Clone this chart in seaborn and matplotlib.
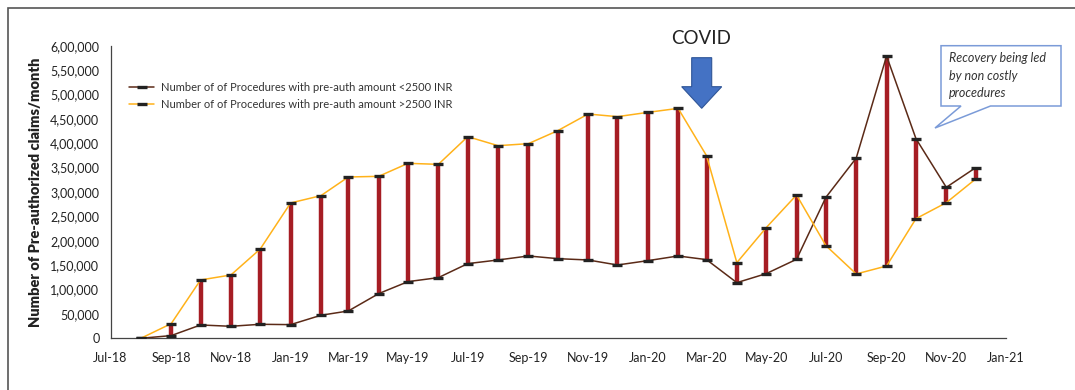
import matplotlib
matplotlib.use("Agg")
import matplotlib.pyplot as plt
import matplotlib.dates as mdates
from matplotlib.patches import Polygon, Rectangle
import numpy as np
import pandas as pd
import seaborn as sns

# Monthly pre-authorized claims, Aug-2018 .. Dec-2020
months = pd.date_range("2018-08-01", "2020-12-01", freq="MS")
below_2500 = [0, 5500, 27300, 24600, 28700, 28000, 47200, 56000, 91600, 116200,
              124400, 153100, 160600, 168800, 163300, 160600, 150300, 159200,
              168800, 161300, 114100, 132600, 162000, 289100, 369700, 578800,
              409400, 309600, 349900]
above_2500 = [0, 30000, 119600, 129800, 183100, 277500, 292500, 330800, 332100,
              358800, 356700, 413500, 395000, 399100, 425800, 459900, 454500,
              463300, 471500, 374500, 155100, 226900, 293900, 190000, 131900,
              148300, 245300, 278100, 326700]

label_low = "Number of of Procedures with pre-auth amount <2500 INR"
label_high = "Number of of Procedures with pre-auth amount >2500 INR"

df = pd.DataFrame({"month": months, "low": below_2500, "high": above_2500})

sns.set_theme(style="white")
plt.rcParams["font.family"] = ["Lato", "DejaVu Sans"]

fig = plt.figure(figsize=(10.75, 3.9), dpi=100)
ax = fig.add_axes([0.1028, 0.1326, 0.8330, 0.7502])

# outer frame of the figure
fig.patches.append(Rectangle((8 / 1075, -0.05), 1.2, 1 - 8 / 390 + 0.05,
                             transform=fig.transFigure, fill=False,
                             edgecolor="#555555", linewidth=1.2, zorder=0))

# high-low bars between the two series
ax.vlines(df["month"], df[["low", "high"]].min(axis=1), df[["low", "high"]].max(axis=1),
          color="#a61d24", linewidth=3.2, zorder=2)

sns.lineplot(data=df, x="month", y="low", ax=ax, color="#5b2a17", linewidth=1.1,
             marker="_", markersize=7, markeredgewidth=2.4, markeredgecolor="#222222",
             label=label_low, zorder=3)
sns.lineplot(data=df, x="month", y="high", ax=ax, color="#ffb21a", linewidth=1.1,
             marker="_", markersize=7, markeredgewidth=2.4, markeredgecolor="#222222",
             label=label_high, zorder=3)

ax.set_xlim(pd.Timestamp("2018-07-01"), pd.Timestamp("2021-01-01"))
ax.set_ylim(0, 600000)
ax.xaxis.set_major_locator(mdates.MonthLocator(bymonth=[1, 3, 5, 7, 9, 11]))
ax.xaxis.set_major_formatter(mdates.DateFormatter("%b-%y"))
ax.set_yticks(np.arange(0, 600001, 50000))


def indian_format(v, pos=None):
    n = int(round(v))
    s = str(n)
    if len(s) <= 3:
        return s
    last3, rest = s[-3:], s[:-3]
    groups = []
    while len(rest) > 2:
        groups.insert(0, rest[-2:])
        rest = rest[:-2]
    if rest:
        groups.insert(0, rest)
    return ",".join(groups + [last3])


ax.yaxis.set_major_formatter(plt.FuncFormatter(indian_format))
ax.tick_params(axis="both", labelsize=9, colors="#222222", length=4, width=0.9,
               direction="out", pad=4)
ax.tick_params(axis="x", pad=6)
for side in ["top", "right"]:
    ax.spines[side].set_visible(False)
for side in ["left", "bottom"]:
    ax.spines[side].set_color("#444444")
    ax.spines[side].set_linewidth(0.9)

ax.set_xlabel("")
ax.set_ylabel("Number of Pre-authorized claims/month", fontsize=10.5,
              fontweight="heavy", color="#222222", labelpad=6)

leg = ax.legend(loc="upper left", bbox_to_anchor=(0.01, 0.91), frameon=False,
                fontsize=8, handlelength=2.2, handletextpad=0.6, labelspacing=0.55)
for t in leg.get_texts():
    t.set_color("#333333")

# COVID marker
fig.text(701 / 1075, 1 - 38 / 390, "COVID", ha="center", va="center",
         fontsize=13.5, color="#222222")
arrow_pts = [(691.7, 57.7), (711.7, 57.7), (711.7, 86.7), (721.7, 86.7),
             (701.7, 108.3), (681.7, 86.7), (691.7, 86.7)]
fig.patches.append(Polygon([(x / 1075, 1 - y / 390) for x, y in arrow_pts],
                           closed=True, transform=fig.transFigure,
                           facecolor="#4472c4", edgecolor="#2f5597", linewidth=0.8))

# callout box
callout = [(941, 45.7), (1061, 45.7), (1061, 106), (990.5, 106), (935, 128),
           (961, 106), (941, 106)]
fig.patches.append(Polygon([(x / 1075, 1 - y / 390) for x, y in callout],
                           closed=True, transform=fig.transFigure,
                           facecolor="white", edgecolor="#7b9bd8", linewidth=1.1))
fig.text(949 / 1075, 1 - 52 / 390, "Recovery being led\nby non costly\nprocedures",
         ha="left", va="top", fontsize=9, style="italic", color="#333333",
         linespacing=1.55)

fig.savefig("out.png", dpi=100)
